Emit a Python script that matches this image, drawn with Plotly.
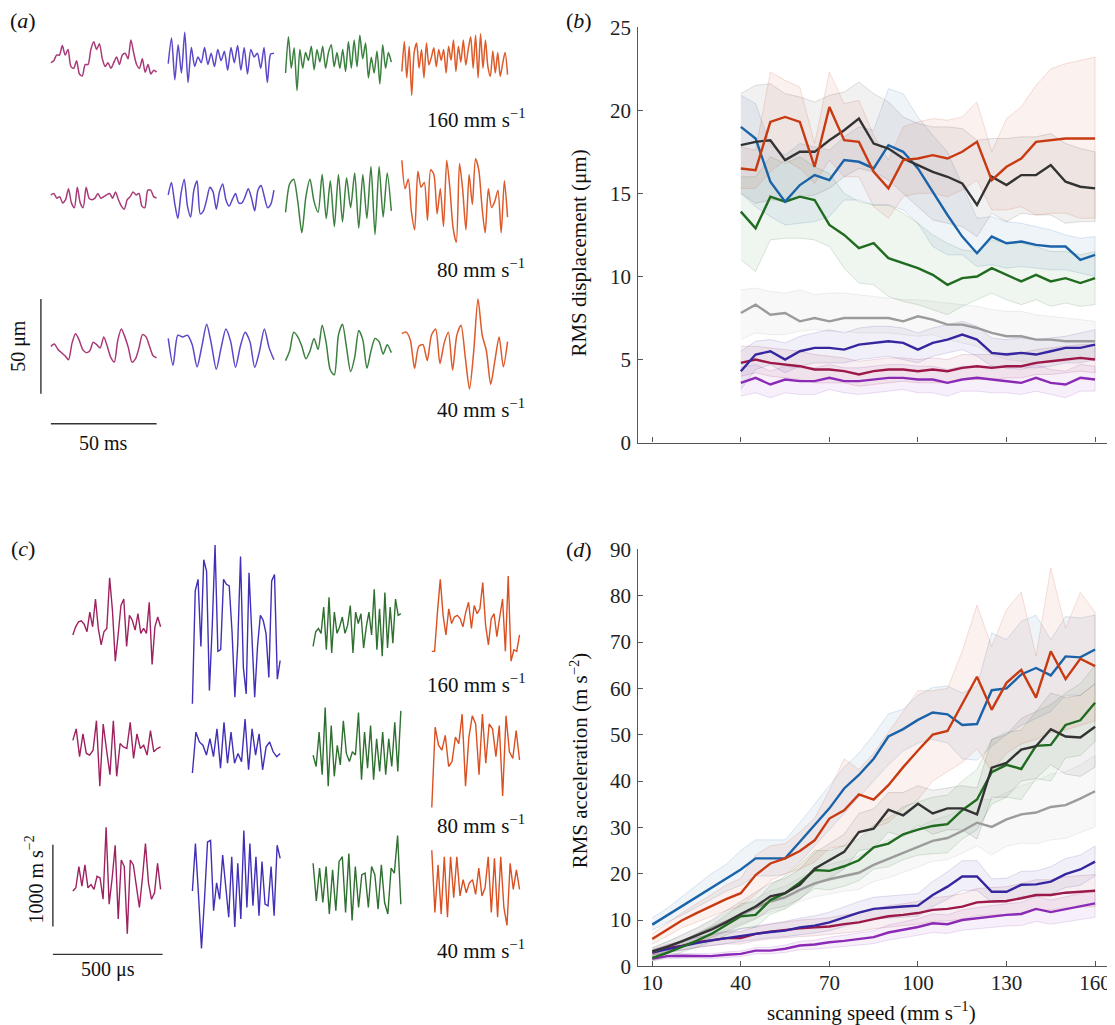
import numpy as np
import plotly.graph_objects as go

W, H = 1115, 1025
FONT = "Liberation Serif, Times New Roman, serif"

# ---------------- DATA ----------------
speed_b = [40, 45, 50, 55, 60, 65, 70, 75, 80, 85, 90, 95, 100, 105, 110, 115, 120, 125, 130, 135, 140, 145, 150, 155, 160]
speed_d = [10, 15, 20, 25, 30, 35, 40, 45, 50, 55, 60, 65, 70, 75, 80, 85, 90, 95, 100, 105, 110, 115, 120, 125, 130, 135, 140, 145, 150, 155, 160]
tick_speeds = [10, 40, 70, 100, 130, 160]

# (b) RMS displacement (um): mean, lower, upper
disp_red = [16.5, 16.4, 19.3, 19.6, 19.3, 16.6, 20.2, 18.2, 18.1, 16.3, 15.3, 17.0, 17.1, 17.3, 17.1, 17.5, 18.1, 15.8, 16.6, 17.1, 18.1, 18.2, 18.3, 18.3, 18.3]
disp_red_lo = [15.3, 15.3, 16.3, 17.0, 16.5, 15.6, 17.0, 16.0, 16.0, 14.2, 13.5, 14.8, 15.0, 15.0, 14.8, 15.2, 15.8, 14.0, 14.0, 14.2, 13.7, 13.8, 13.8, 13.5, 13.5]
disp_red_hi = [17.8, 17.6, 22.3, 21.8, 21.4, 18.0, 22.3, 20.4, 20.6, 18.5, 17.0, 19.0, 19.3, 19.5, 19.4, 19.6, 20.5, 17.5, 19.5, 20.2, 21.5, 22.5, 22.8, 23.0, 23.2]
disp_black = [17.9, 18.1, 18.2, 17.0, 17.5, 17.5, 18.2, 18.8, 19.5, 18.0, 17.7, 17.1, 16.7, 16.3, 16.0, 15.6, 14.3, 16.0, 15.5, 16.1, 16.1, 16.7, 15.7, 15.4, 15.3]
disp_black_lo = [15.0, 14.4, 14.6, 14.6, 14.8, 14.9, 15.3, 16.0, 16.5, 16.3, 15.8, 15.0, 14.2, 13.4, 13.2, 13.0, 12.4, 13.8, 13.3, 13.8, 13.7, 13.7, 13.2, 13.3, 13.3]
disp_black_hi = [21.0, 21.5, 21.6, 21.0, 20.8, 20.5, 20.9, 21.1, 21.7, 21.0, 20.5, 19.6, 19.2, 19.0, 19.0, 18.9, 18.2, 18.3, 18.3, 18.4, 18.4, 18.6, 18.0, 17.7, 17.5]
disp_blue = [19.0, 18.3, 15.7, 14.5, 15.5, 16.1, 15.8, 17.0, 16.9, 16.5, 17.9, 17.5, 16.5, 15.1, 13.7, 12.4, 11.4, 12.4, 12.0, 12.1, 11.9, 11.8, 11.8, 11.0, 11.3]
disp_blue_lo = [15.0, 14.2, 13.6, 13.1, 13.2, 13.3, 13.6, 14.6, 14.6, 14.3, 14.3, 14.0, 13.2, 11.8, 11.3, 11.3, 10.6, 10.7, 10.5, 10.6, 10.5, 10.4, 10.4, 10.2, 10.0]
disp_blue_hi = [20.9, 20.4, 17.9, 17.3, 18.0, 17.8, 17.6, 18.4, 19.0, 18.8, 21.3, 21.0, 19.6, 18.5, 17.5, 15.5, 13.5, 13.6, 13.3, 13.2, 13.0, 12.8, 12.5, 12.3, 12.4]
disp_green = [13.9, 12.9, 14.8, 14.5, 14.8, 14.6, 13.1, 12.5, 11.7, 12.0, 11.1, 10.8, 10.5, 10.1, 9.5, 9.9, 10.0, 10.5, 10.1, 9.7, 10.1, 9.7, 9.9, 9.6, 9.9]
disp_green_lo = [11.0, 10.3, 12.2, 12.3, 12.3, 12.2, 11.8, 10.5, 9.6, 9.5, 8.8, 8.5, 8.3, 8.0, 7.7, 8.2, 8.6, 9.0, 8.6, 8.3, 8.6, 8.2, 8.4, 8.2, 8.3]
disp_green_hi = [16.0, 16.0, 17.2, 16.8, 17.2, 16.6, 16.2, 15.0, 14.5, 14.3, 14.3, 13.8, 13.2, 12.5, 12.0, 11.6, 11.5, 12.2, 12.0, 12.0, 11.8, 11.5, 11.5, 11.3, 11.5]
disp_gray = [7.8, 8.3, 7.7, 7.8, 7.3, 7.5, 7.3, 7.5, 7.5, 7.5, 7.5, 7.3, 7.6, 7.4, 7.1, 7.1, 6.9, 6.6, 6.4, 6.4, 6.2, 6.2, 6.1, 6.1, 6.1]
disp_gray_lo = [6.2, 6.6, 6.5, 6.5, 6.7, 6.8, 6.7, 6.7, 6.6, 6.6, 6.6, 6.5, 6.4, 6.5, 6.2, 6.0, 5.8, 5.3, 5.0, 4.9, 4.8, 4.9, 4.9, 5.0, 5.1]
disp_gray_hi = [9.2, 9.3, 9.1, 9.0, 9.2, 8.9, 9.0, 9.0, 8.9, 8.8, 8.7, 8.6, 8.6, 8.5, 8.4, 8.3, 8.2, 8.0, 7.9, 7.9, 7.7, 7.6, 7.5, 7.4, 7.3]
disp_indigo = [4.3, 5.3, 5.5, 5.0, 5.5, 5.7, 5.7, 5.6, 5.9, 6.0, 6.1, 6.0, 5.6, 6.0, 6.2, 6.5, 6.2, 5.4, 5.3, 5.4, 5.3, 5.5, 5.7, 5.7, 5.9]
disp_indigo_lo = [3.2, 4.4, 4.7, 4.2, 4.6, 4.8, 4.8, 4.8, 5.0, 5.1, 5.2, 5.0, 4.8, 5.2, 5.4, 5.6, 5.2, 4.6, 4.5, 4.5, 4.5, 4.6, 4.8, 4.8, 5.0]
disp_indigo_hi = [5.5, 6.1, 6.2, 6.0, 6.4, 6.6, 6.8, 6.6, 6.9, 7.0, 7.0, 6.9, 6.6, 6.9, 7.1, 7.3, 7.0, 6.3, 6.2, 6.3, 6.2, 6.3, 6.4, 6.6, 6.8]
disp_crimson = [4.8, 5.0, 4.8, 4.7, 4.6, 4.4, 4.4, 4.3, 4.1, 4.3, 4.4, 4.4, 4.3, 4.4, 4.3, 4.5, 4.6, 4.5, 4.6, 4.6, 4.8, 4.9, 5.0, 5.1, 5.0]
disp_crimson_lo = [4.0, 4.2, 4.0, 3.9, 3.8, 3.6, 3.6, 3.6, 3.4, 3.5, 3.6, 3.7, 3.6, 3.6, 3.6, 3.8, 3.8, 3.8, 3.9, 3.9, 4.1, 4.1, 4.2, 4.3, 4.2]
disp_crimson_hi = [5.8, 5.8, 5.7, 5.6, 5.5, 5.3, 5.2, 5.1, 4.9, 5.0, 5.1, 5.1, 5.0, 5.1, 5.0, 5.3, 5.3, 5.3, 5.4, 5.4, 5.6, 5.7, 5.8, 5.9, 5.9]
disp_purple = [3.6, 3.9, 3.5, 3.8, 3.7, 3.7, 3.9, 3.7, 3.7, 3.8, 3.9, 3.9, 3.8, 3.8, 3.6, 3.8, 3.9, 3.8, 3.7, 3.6, 3.9, 3.6, 3.5, 3.9, 3.8]
disp_purple_lo = [2.8, 3.0, 2.7, 3.0, 2.9, 2.9, 3.2, 3.0, 2.9, 3.0, 3.1, 3.2, 3.0, 3.0, 2.8, 3.1, 3.1, 3.0, 3.0, 2.9, 3.1, 2.9, 2.7, 3.1, 3.1]
disp_purple_hi = [4.5, 4.7, 4.3, 4.6, 4.5, 4.5, 4.7, 4.5, 4.5, 4.6, 4.7, 4.7, 4.6, 4.6, 4.4, 4.6, 4.6, 4.6, 4.5, 4.4, 4.7, 4.4, 4.3, 4.7, 4.6]

# (d) RMS acceleration (m s^-2): mean, lower, upper
acc_blue = [9.0, 11.0, 13.0, 15.0, 17.0, 19.0, 20.9, 23.3, 23.3, 23.3, 26.9, 30.5, 34.1, 38.4, 41.3, 44.8, 49.6, 51.2, 53.2, 54.8, 54.4, 52.1, 52.3, 59.6, 60.0, 63.0, 64.4, 62.8, 66.9, 66.7, 68.4]
acc_blue_lo = [7.8, 9.5, 11.0, 12.8, 14.5, 16.2, 17.5, 19.5, 19.5, 19.8, 22.5, 26.0, 29.5, 33.0, 36.5, 40.0, 43.5, 46.5, 48.2, 49.0, 48.2, 44.8, 44.5, 47.5, 50.0, 52.0, 53.5, 55.0, 58.5, 58.5, 61.0]
acc_blue_hi = [10.5, 12.5, 15.0, 17.5, 20.0, 22.0, 25.0, 27.3, 27.3, 27.3, 31.0, 35.0, 39.0, 43.0, 46.0, 50.0, 54.5, 55.5, 58.5, 60.2, 60.5, 59.0, 60.5, 72.0, 70.5, 74.5, 75.8, 70.5, 75.5, 75.2, 75.8]
acc_red = [5.9, 7.9, 9.9, 11.5, 13.0, 14.5, 15.8, 19.7, 22.2, 23.3, 24.9, 27.2, 31.9, 33.7, 37.1, 36.0, 39.1, 43.0, 46.6, 50.0, 50.8, 56.5, 62.5, 55.4, 61.2, 64.0, 58.0, 68.0, 62.0, 66.4, 64.8]
acc_red_lo = [4.8, 6.5, 8.3, 9.6, 10.8, 12.0, 13.0, 15.5, 18.5, 20.0, 21.0, 22.5, 25.5, 26.0, 29.0, 30.0, 31.0, 34.0, 36.0, 40.0, 42.0, 44.0, 47.0, 42.0, 46.0, 48.0, 49.0, 50.5, 51.0, 52.0, 53.0]
acc_red_hi = [7.0, 9.3, 11.5, 13.5, 15.5, 17.5, 19.0, 24.0, 26.0, 26.5, 29.0, 32.0, 38.0, 44.8, 42.5, 46.0, 50.5, 55.0, 59.5, 59.5, 60.0, 68.0, 78.0, 69.0, 77.0, 80.8, 67.0, 86.0, 73.0, 80.7, 76.5]
acc_black = [3.2, 4.2, 5.4, 6.6, 7.9, 9.5, 11.3, 12.9, 15.1, 15.8, 17.6, 21.1, 22.9, 24.7, 29.0, 29.7, 33.8, 32.6, 35.1, 33.0, 34.1, 34.1, 32.8, 42.9, 43.9, 46.8, 47.5, 51.2, 49.6, 49.4, 51.7]
acc_black_lo = [2.4, 3.2, 4.2, 5.1, 6.2, 7.5, 8.8, 10.2, 12.3, 13.0, 14.5, 17.5, 19.0, 21.0, 25.0, 25.5, 29.0, 28.0, 30.5, 28.5, 29.5, 29.5, 27.5, 36.5, 36.5, 40.0, 40.5, 43.5, 41.5, 41.0, 43.0]
acc_black_hi = [4.0, 5.3, 6.8, 8.3, 10.0, 12.0, 14.0, 16.0, 18.0, 19.0, 21.0, 24.5, 26.5, 28.5, 33.0, 34.0, 37.5, 37.5, 39.0, 38.0, 38.5, 39.0, 38.5, 49.0, 50.0, 53.5, 55.0, 59.0, 58.0, 58.5, 61.0]
acc_green = [1.8, 2.9, 4.2, 5.5, 7.0, 8.9, 10.8, 11.1, 14.3, 15.8, 18.1, 20.8, 20.6, 21.6, 22.9, 25.7, 26.5, 28.5, 29.5, 30.3, 30.7, 33.7, 36.0, 41.9, 43.5, 42.6, 47.6, 47.8, 52.1, 53.1, 56.9]
acc_green_lo = [1.2, 2.0, 3.1, 4.1, 5.3, 6.8, 8.2, 8.4, 11.2, 12.4, 14.5, 16.8, 16.5, 17.3, 18.5, 21.0, 21.5, 23.0, 24.0, 24.3, 24.5, 27.5, 29.5, 35.0, 36.5, 36.0, 40.5, 40.0, 45.0, 45.5, 48.5]
acc_green_hi = [2.5, 3.8, 5.3, 7.0, 8.8, 11.0, 13.5, 14.0, 17.5, 19.5, 22.0, 25.0, 25.0, 26.0, 27.5, 30.5, 32.0, 34.5, 35.5, 36.5, 37.0, 40.0, 42.5, 49.0, 50.5, 51.0, 55.0, 56.5, 59.0, 61.0, 65.0]
acc_gray = [3.2, 4.3, 5.4, 6.8, 8.2, 9.7, 11.1, 12.6, 14.0, 14.9, 16.5, 17.9, 18.8, 19.5, 20.2, 21.9, 23.2, 24.4, 25.7, 27.1, 27.7, 29.2, 31.0, 30.1, 31.7, 32.8, 33.2, 34.4, 34.8, 36.2, 37.8]
acc_gray_lo = [2.4, 3.3, 4.2, 5.4, 6.6, 7.9, 9.2, 10.5, 11.7, 12.5, 14.0, 15.0, 15.6, 16.2, 16.6, 18.3, 19.1, 20.3, 21.4, 22.7, 23.0, 24.4, 26.0, 24.0, 25.9, 26.6, 26.4, 27.3, 27.6, 28.9, 30.1]
acc_gray_hi = [4.0, 5.3, 6.6, 8.1, 9.8, 11.5, 13.0, 14.7, 16.3, 17.3, 19.0, 20.8, 22.0, 22.8, 23.8, 25.5, 27.3, 28.5, 30.0, 31.5, 32.5, 34.0, 36.0, 36.0, 37.5, 39.0, 40.0, 41.5, 42.0, 43.5, 45.5]
acc_indigo = [3.0, 3.7, 4.4, 5.0, 5.6, 6.1, 6.6, 7.0, 7.4, 7.7, 8.4, 8.8, 9.5, 10.6, 11.6, 12.4, 12.7, 12.9, 13.1, 15.4, 17.2, 19.4, 19.4, 16.1, 16.1, 17.6, 17.7, 18.3, 19.9, 20.9, 22.6]
acc_indigo_lo = [2.4, 3.0, 3.5, 4.0, 4.5, 5.0, 5.4, 5.8, 6.2, 6.4, 6.8, 7.2, 7.7, 8.6, 9.5, 10.2, 10.4, 10.6, 10.8, 12.9, 14.5, 16.4, 16.4, 13.8, 13.8, 15.1, 15.1, 15.6, 17.0, 17.5, 19.5]
acc_indigo_hi = [3.6, 4.5, 5.4, 6.2, 7.0, 7.6, 8.2, 8.7, 9.2, 9.7, 10.4, 10.9, 11.7, 12.9, 14.0, 14.9, 15.2, 15.4, 15.7, 18.3, 20.4, 22.8, 22.8, 18.9, 19.0, 20.5, 20.6, 21.5, 23.3, 24.0, 26.0]
acc_crimson = [2.9, 3.9, 4.4, 5.2, 5.6, 6.1, 6.1, 7.0, 7.5, 7.9, 8.2, 8.4, 8.6, 9.1, 9.5, 10.2, 10.8, 11.1, 11.5, 12.2, 12.4, 12.9, 13.8, 14.0, 14.1, 14.7, 15.4, 15.4, 15.9, 16.1, 16.3]
acc_crimson_lo = [2.3, 3.1, 3.5, 4.1, 4.4, 4.8, 4.8, 5.5, 5.9, 6.2, 6.4, 6.6, 6.8, 7.2, 7.5, 8.1, 8.5, 8.8, 9.1, 9.7, 9.8, 10.2, 10.9, 11.1, 11.2, 11.6, 12.2, 12.2, 12.6, 12.7, 12.9]
acc_crimson_hi = [3.6, 4.7, 5.4, 6.3, 6.8, 7.4, 7.5, 8.5, 9.1, 9.6, 10.0, 10.2, 10.5, 11.1, 11.6, 12.4, 13.1, 13.5, 14.0, 14.8, 15.1, 15.7, 16.8, 17.0, 17.2, 17.9, 18.7, 18.7, 19.3, 19.6, 19.8]
acc_purple = [1.6, 2.2, 2.3, 2.3, 2.2, 2.5, 2.7, 3.4, 3.4, 3.8, 4.5, 4.7, 5.2, 5.5, 5.9, 6.3, 7.3, 7.9, 8.5, 9.3, 9.1, 10.0, 10.4, 10.8, 11.1, 11.3, 12.4, 11.7, 12.3, 12.9, 13.6]
acc_purple_lo = [1.2, 1.7, 1.8, 1.8, 1.7, 1.9, 2.1, 2.7, 2.7, 3.0, 3.6, 3.7, 4.1, 4.3, 4.6, 4.9, 5.7, 6.2, 6.7, 7.3, 7.1, 7.8, 8.1, 8.4, 8.7, 8.8, 9.7, 9.1, 9.6, 10.1, 10.6]
acc_purple_hi = [2.0, 2.7, 2.8, 2.8, 2.7, 3.1, 3.3, 4.1, 4.1, 4.6, 5.4, 5.7, 6.3, 6.7, 7.2, 7.7, 8.9, 9.6, 10.3, 11.3, 11.1, 12.2, 12.7, 13.1, 13.5, 13.8, 15.1, 14.3, 15.0, 15.7, 16.6]

# (a) displacement snippets (um), 50 ms windows; rows = 160, 80, 40 mm/s
wave_a_160 = [
    [-2, -1, 2, 2, 7, 2, 5, -4, -5, -1, -8, -9, -3, -3, 5, 9, 5, 8, 0, -4, -2, -5, -2, 1, -3, 2, 3, 0, 10, 3, -3, -5, 0, -7, -3, -8, -6, -7],
    [-2.5, 11, -11, 7.5, -7.5, 14, -12.5, 6, -4, 1, -2, 6, -3, 3, -4, 5, -1, 4, -6, 6, -2, 7, -6, 6, -8, 5, 1, 3, -5, 6, -12.5, 2.5, 3],
    [-7.5, 11.7, -5, 5.8, -16.7, 5, -5, 3.3, -0.8, 6.7, -5.8, 5, -1.7, 6.7, -5, 3.3, 7.5, -4.2, 3.3, -5, 5, -6.7, 9.2, -5, 10, -4.2, 12.5, 0, 8.3, -10, 0.8, -7.5, 4.2, -13.3, 7.5, -5, 3.3, -1.7],
    [-6.7, 9.2, -10, 6.7, -19.2, 3.3, 8.3, -5, 5, -10, 8.3, -3.3, 0.8, 5.8, -4.2, 5, -0.8, 5, -7.5, 6.7, -0.8, 10, -6.7, 6.7, -1.7, 10, -3.3, 5, 11.7, -5, 12.5, -10, 13.3, -5, 10, -4.2, -9.2, 4.2, -7.5, 3.3, -9.2, -2.5, 3.3, -8.3],
]
wave_a_80 = [
    [1.7, 2.5, 0, 0.8, -2.5, -0.8, 5, -2.5, -5, 5.8, -2.5, -5, 5.8, 0, -0.8, 0, 2.5, 0, 0.8, 1.7, 2.5, 0, 3.3, -0.8, -4.2, -5.8, -0.8, 0.8, 3.3, 1.7, 2.5, -4.2, -5, 4.2, 4.2, 0.8, 0],
    [1.7, 8.3, -2.5, -10.8, 2.5, 10, -4.2, -10, 4.2, 9.2, -8.3, -6.7, -0.8, 5.8, 3.3, -5.8, 3.3, 7.5, -0.8, -4.2, -0.8, 2.5, -2.5, -2.5, 0.8, 5, 0, -6.7, 4.2, 6.7, 0.8, -5, -3.3, 4.2],
    [-7.5, 7.5, 10, -1.7, -18.3, 0.8, 10, -1.7, -7.5, 12.5, -10.8, 9.2, -15, 12.5, -12.5, 10.8, -5, 13.3, -15.8, 12.5, -10.8, 16.7, -19.2, 16.7, -10, 13.3, -6.7],
    [20, 5, 10, -7.5, -16.7, 14.2, 5.8, 8.3, -11.7, 15, 12.5, -8.3, 5, -15, 20, 5, -15.8, -23.3, 18.3, 4.2, -16.7, 12.5, -3.3, 20.8, 15, -4.2, -18.3, 5, -5, -1.7, 4.2, -18.3, 9.2, -10],
]
wave_a_40 = [
    [0.8, 2, -0.8, -2.5, -4.2, -6.3, 2.5, 7.5, 4.2, -0.8, -2.5, -1.7, 3, 1.7, 0, 5.8, 0.8, -5, -7.5, 4.2, 10, 5.8, 0, -7.5, -5.8, 0, 7, 5.8, 0.8, -4.2, -5.3],
    [5, -9.2, 6.7, 5.8, 6.7, 1.7, -10, 0.8, 12.5, 1.7, -11.3, 0, 10, 3.3, -10.3, 0.8, 8.3, 3.3, -10.3, -1.7, 10, 0, -6.3],
    [-6.7, -1.7, 8.3, 5.8, 0.8, -5.8, -1.7, 5, -0.8, 12, 2.5, -11.7, -14.2, 6.7, 12.5, 0, -12.5, -5, 9.2, 4.2, -10.8, -1.7, 5, 3.3, -3.3, 1.7, -2.5],
    [7.5, 8.3, 4.2, -10.8, 0.8, 1.7, -6.7, 6.7, 10, -8.3, 2.5, 8.3, -11.7, 6.7, 12, -5, -21.7, -1.7, 25.8, 6.7, -1.7, -19.2, -6.7, 5.8, -10, 3.3],
]

# (c) acceleration snippets (m s^-2), 400 us windows; rows = 160, 80, 40 mm/s
wave_c_160 = [
    [-120, -20, 40, 52, 12, -80, 160, -20, 320, -40, -240, -80, -40, 580, 180, -440, -120, 240, 320, -260, 120, 60, -60, 140, -100, -40, -100, 280, -480, -20, 100, -20],
    [-960, 420, 560, -260, 800, 660, -800, -20, 980, -320, -300, 560, 500, 480, -80, -880, -240, 840, -520, -840, 640, -120, -880, -260, 120, 60, -100, -640, 540, 620, -660, -432],
    [-260, -80, -40, -100, 220, -300, 340, -340, 160, -100, -20, 100, -100, 0, 240, -340, 160, 20, 140, -280, -20, 160, -120, 440, -300, 200, -380, 400, -280, 220, -220, 320, 120, 140],
    [-320, -320, 160, 560, 120, -120, 200, 20, 100, 120, 80, -20, 160, 280, -40, 240, 140, 200, 520, 0, -240, 80, 140, -140, 100, 320, -320, 600, -440, -300, -320, -120],
]
wave_c_80 = [
    [80, 220, -120, 160, -80, -100, -40, 320, -480, 280, -40, -340, 320, -360, 40, 0, -20, 300, -140, 160, -20, 20, -100, 200, -60, -20, 0],
    [-320, 180, 60, 20, -100, 100, -120, 220, -260, 300, -200, 180, -200, -80, -180, 340, -280, 220, -100, 160, -280, 0, 60, -60, -120, -80],
    [-100, -240, 180, -340, 480, -480, 260, -360, 20, -220, 320, -80, -180, -60, -100, 420, -400, 180, -260, 260, -400, 100, -300, 180, -340, 100, -240, 300, -300, 440],
    [-740, 240, 20, -40, 140, -240, -180, 120, 40, 400, -480, 120, 380, 280, -340, 400, -200, 280, 220, -120, 260, -600, 380, -60, -140, 200, -160],
]
wave_c_40 = [
    [-80, -40, 220, -20, 240, -40, 0, -60, 100, 80, -180, 700, -240, 80, 480, -420, 300, 220, -600, 300, 240, -40, -280, 80, 500, 20, -180, -100, 260, -60],
    [-80, 500, -120, -780, -180, 520, 540, -320, 20, -180, 360, 20, -400, 340, -520, 260, -420, 660, -280, 500, -260, 340, -380, 280, -240, -260, 220, -380, 480, 320],
    [260, -200, 200, -220, 220, -360, 180, -320, 280, 340, -340, 380, -440, 220, -280, 120, 140, -280, 220, 120, -300, 240, -220, -360, 200, 140, 600, -240],
    [420, -340, 240, -360, 340, -400, 340, -160, 340, -140, 60, -100, 20, 60, -120, 200, -140, -40, 340, -340, 320, -400, 340, -280, -500, 260, -60, 180, -60],
]
speed_labels = ["160 mm s<sup>−1</sup>", "80 mm s<sup>−1</sup>", "40 mm s<sup>−1</sup>"]
window_a_ms = 50
window_c_us = 400
scalebar_a_um = 50
scalebar_a_ms = 50
scalebar_c_acc = 1000
scalebar_c_us = 500

# ---------------- STYLE / LAYOUT ----------------
COL = {
    "red": (200, 58, 18), "blue": (26, 99, 168), "black": (51, 51, 51), "green": (31, 107, 31),
    "gray": (155, 155, 155), "indigo": (53, 38, 160), "crimson": (156, 24, 72), "purple": (139, 43, 181),
}
WAVE_A = ["#A83A78", "#5A48C8", "#3C8040", "#DD5A2A"]
WAVE_C = ["#9E2260", "#4030B8", "#2F7030", "#DA5020"]

# page placement of the figure in the captured picture
OFF_X, OFF_Y, SPAN_Y = 7.0, 18.3, 1003.5


def rgba(c, a):
    return f"rgba({c[0]},{c[1]},{c[2]},{a})"


def px_x(p):
    return min(1.0, max(0.0, (p - OFF_X) / W))


def px_y(p):
    return min(1.0, max(0.0, 1 - (p - OFF_Y) / SPAN_Y))


fig = go.Figure()

order = ["purple", "crimson", "indigo", "gray", "green", "blue", "black", "red"]
disp = {"red": (disp_red, disp_red_lo, disp_red_hi), "black": (disp_black, disp_black_lo, disp_black_hi),
        "blue": (disp_blue, disp_blue_lo, disp_blue_hi), "green": (disp_green, disp_green_lo, disp_green_hi),
        "gray": (disp_gray, disp_gray_lo, disp_gray_hi), "indigo": (disp_indigo, disp_indigo_lo, disp_indigo_hi),
        "crimson": (disp_crimson, disp_crimson_lo, disp_crimson_hi), "purple": (disp_purple, disp_purple_lo, disp_purple_hi)}
acc = {"red": (acc_red, acc_red_lo, acc_red_hi), "black": (acc_black, acc_black_lo, acc_black_hi),
       "blue": (acc_blue, acc_blue_lo, acc_blue_hi), "green": (acc_green, acc_green_lo, acc_green_hi),
       "gray": (acc_gray, acc_gray_lo, acc_gray_hi), "indigo": (acc_indigo, acc_indigo_lo, acc_indigo_hi),
       "crimson": (acc_crimson, acc_crimson_lo, acc_crimson_hi), "purple": (acc_purple, acc_purple_lo, acc_purple_hi)}

for xs, series, xa, ya in [(speed_b, disp, "x", "y"), (speed_d, acc, "x2", "y2")]:
    for name in order:
        m, lo, hi = series[name]
        c = COL[name]
        fig.add_trace(go.Scatter(x=list(xs) + list(xs)[::-1], y=list(hi) + list(lo)[::-1], fill="toself",
                                 fillcolor=rgba(c, 0.07), line=dict(color=rgba(c, 0.15), width=1),
                                 mode="lines", hoverinfo="skip", showlegend=False, xaxis=xa, yaxis=ya))
    for name in order:
        m, lo, hi = series[name]
        fig.add_trace(go.Scatter(x=xs, y=m, mode="lines", line=dict(color=rgba(COL[name], 1), width=2.4),
                                 showlegend=False, xaxis=xa, yaxis=ya))

# waveform panels: pixel placement (reference px) and scales
A_X0, A_KX, A_Y0, A_KY = 50, 2.12, 347, 1.9          # px at t=0, px/ms, px at 0 um, px/um
A_COL_OFF = [0, 55.5, 111, 166]                      # ms
A_ROW_OFF = [152.5, 79, 0]                           # um
C_X0, C_KX, C_Y0, C_KY = 72, 0.22, 885, 0.082        # px at t=0, px/us, px at 0, px per m s^-2
C_COL_OFF = [0, 545, 1095, 1636]                     # us
C_ROW_OFF = [3171, 1683, 0]                          # m s^-2

for r, row in enumerate([wave_a_160, wave_a_80, wave_a_40]):
    for k, vals in enumerate(row):
        t = np.linspace(0, window_a_ms, len(vals))
        fig.add_trace(go.Scatter(x=t + A_COL_OFF[k], y=np.array(vals) + A_ROW_OFF[r], mode="lines",
                                 line=dict(color=WAVE_A[k], width=1.5, shape="spline", smoothing=0.7),
                                 showlegend=False, xaxis="x3", yaxis="y3"))
for r, row in enumerate([wave_c_160, wave_c_80, wave_c_40]):
    for k, vals in enumerate(row):
        t = np.linspace(0, window_c_us, len(vals))
        fig.add_trace(go.Scatter(x=t + C_COL_OFF[k], y=np.array(vals) + C_ROW_OFF[r], mode="lines",
                                 line=dict(color=WAVE_C[k], width=1.4),
                                 showlegend=False, xaxis="x4", yaxis="y4"))

# scale bars
bar = dict(color="#333333", width=1.4)
a_bx = (40 - A_X0) / A_KX
a_by0 = (A_Y0 - 393) / A_KY
a_hy = (A_Y0 - 423) / A_KY
fig.add_trace(go.Scatter(x=[a_bx, a_bx], y=[a_by0, a_by0 + scalebar_a_um], mode="lines", line=bar,
                         showlegend=False, xaxis="x3", yaxis="y3"))
fig.add_trace(go.Scatter(x=[0, scalebar_a_ms], y=[a_hy, a_hy], mode="lines", line=bar,
                         showlegend=False, xaxis="x3", yaxis="y3"))
c_bx = (52 - C_X0) / C_KX
c_by0 = (C_Y0 - 927) / C_KY
c_hy = (C_Y0 - 955) / C_KY
fig.add_trace(go.Scatter(x=[c_bx, c_bx], y=[c_by0, c_by0 + scalebar_c_acc], mode="lines", line=bar,
                         showlegend=False, xaxis="x4", yaxis="y4"))
fig.add_trace(go.Scatter(x=[c_bx, c_bx + scalebar_c_us], y=[c_hy, c_hy], mode="lines", line=bar,
                         showlegend=False, xaxis="x4", yaxis="y4"))

AX_COLOR = "#555555"
tickfont = dict(family=FONT, size=21, color="#222222")
common_x = dict(domain=[px_x(639), px_x(1110)], range=[5.27, 164.39], tickvals=tick_speeds,
                ticks="inside", ticklen=5, tickcolor=AX_COLOR, tickwidth=1.2, showline=True,
                linecolor=AX_COLOR, linewidth=1.4, showgrid=False, zeroline=False, tickfont=tickfont,
                ticklabelstandoff=-3)
common_y = dict(ticks="inside", ticklen=5, tickcolor=AX_COLOR, tickwidth=1.2, showline=True,
                linecolor=AX_COLOR, linewidth=1.4, showgrid=False, zeroline=False, tickfont=tickfont,
                ticklabelstandoff=2)

A_L, A_R, A_T, A_B = 7, 540, 18.3, 470
C_L, C_R, C_T, C_B = 7, 540, 520, 1000

fig.update_layout(
    width=W, height=H, margin=dict(l=0, r=0, t=0, b=0),
    paper_bgcolor="white", plot_bgcolor="rgba(0,0,0,0)", showlegend=False,
    xaxis=dict(common_x, anchor="y", showticklabels=False),
    yaxis=dict(common_y, anchor="x", domain=[px_y(442), px_y(25.5)], range=[0, 25],
               tickvals=[0, 5, 10, 15, 20, 25]),
    xaxis2=dict(common_x, anchor="y2", showticklabels=True),
    yaxis2=dict(common_y, anchor="x2", domain=[px_y(967), px_y(549)], range=[0, 90],
                tickvals=[0, 10, 20, 30, 40, 50, 60, 70, 80, 90]),
    xaxis3=dict(domain=[px_x(A_L), px_x(A_R)], range=[(A_L - A_X0) / A_KX, (A_R - A_X0) / A_KX],
                visible=False, anchor="y3"),
    yaxis3=dict(domain=[px_y(A_B), px_y(A_T)], range=[(A_Y0 - A_B) / A_KY, (A_Y0 - A_T) / A_KY],
                visible=False, anchor="x3"),
    xaxis4=dict(domain=[px_x(C_L), px_x(C_R)], range=[(C_L - C_X0) / C_KX, (C_R - C_X0) / C_KX],
                visible=False, anchor="y4"),
    yaxis4=dict(domain=[px_y(C_B), px_y(C_T)], range=[(C_Y0 - C_B) / C_KY, (C_Y0 - C_T) / C_KY],
                visible=False, anchor="x4"),
)


def note(text, x, y, size=20, angle=0, xanchor="center"):
    fig.add_annotation(text=text, x=px_x(x), y=px_y(y), xref="paper", yref="paper", showarrow=False,
                       xanchor=xanchor, yanchor="middle", textangle=angle,
                       font=dict(family=FONT, size=size, color="#111111"))


note("(<i>a</i>)", 22, 16, size=22)
note("(<i>b</i>)", 580, 14, size=22)
note("(<i>c</i>)", 22, 548, size=22)
note("(<i>d</i>)", 580, 549, size=22)
for lbl, y in zip(speed_labels, [117, 267, 408]):
    note(lbl, 527, y, size=21, xanchor="right")
for lbl, y in zip(speed_labels, [683, 825, 950]):
    note(lbl, 527, y, size=21, xanchor="right")
note("50 μm", 18, 345, size=20, angle=-90)
note("50 ms", 103, 442, size=20)
note("1000 m s<sup>−2</sup>", 33, 880, size=20, angle=-90)
note("500 μs", 107, 970, size=20)
note("RMS displacement (μm)", 580, 252, size=21, angle=-90)
note("RMS acceleration (m s<sup>−2</sup>)", 580, 760, size=21, angle=-90)
note("scanning speed (mm s<sup>−1</sup>)", 873, 1012, size=21)

fig.write_html("out.html")
